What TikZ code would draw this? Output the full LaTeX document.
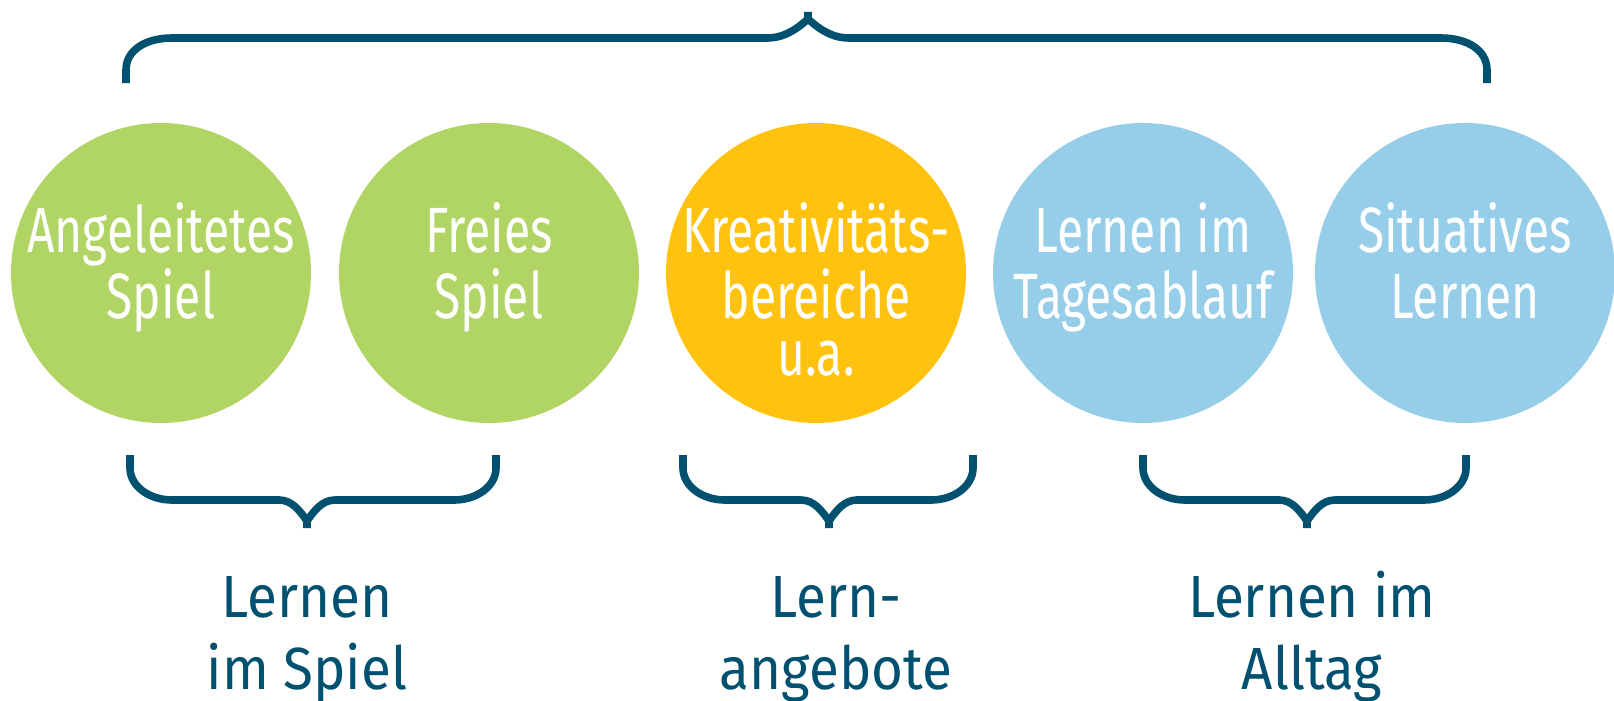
\documentclass[tikz,border=0pt]{standalone}
\usepackage{fontspec}
\setmainfont{Fira Sans}
\newfontfamily\circfont[FakeStretch=0.75]{Fira Sans}
\newfontfamily\labfont[FakeStretch=0.92]{Fira Sans}
\definecolor{bgreen}{HTML}{B1D564}
\definecolor{byellow}{HTML}{FFC20E}
\definecolor{bblue}{HTML}{96CEEA}
\definecolor{navy}{HTML}{005070}
\newcommand\lowbrace[3]{%
  \draw[brace] (#2,528) -- (#2,521) .. controls ({#2-7},511) and ({#2-15},500) .. ({#2-28},500)
     -- ({#1+42},500) .. controls ({#1+19},500) and (#1,486) .. (#1,468) -- (#1,455);
  \draw[brace] (#2,521) .. controls ({#2+7},511) and ({#2+15},500) .. ({#2+28},500)
     -- ({#3-42},500) .. controls ({#3-19},500) and (#3,486) .. (#3,468) -- (#3,455);}
\begin{document}
\begin{tikzpicture}[x=1pt,y=-1pt,
  bubble/.style={circle, minimum size=300pt, inner sep=0pt, draw=none},
  ctext/.style={text=white, font=\circfont\fontsize{64}{66}\selectfont, anchor=base, inner sep=0pt,
    text height=46pt, text depth=0pt},
  ltext/.style={text=navy, font=\labfont\fontsize{59.5}{72}\selectfont, anchor=base, inner sep=0pt,
    text height=44pt, text depth=0pt},
  brace/.style={draw=navy, line width=7.6pt, line join=round}]
\useasboundingbox (0,0) rectangle (1614,701);
% circles
\node[bubble, fill=bgreen] (c1) at (161,273) {};
\node[bubble, fill=bgreen] (c2) at (489,273) {};
\node[bubble, fill=byellow] (c3) at (816,273) {};
\node[bubble, fill=bblue] (c4) at (1143,273) {};
\node[bubble, fill=bblue] (c5) at (1465,273) {};
% circle texts
\node[ctext] (t1a) at (161,252) {Angeleitetes};
\node[ctext] (t1b) at (161,318) {Spiel};
\node[ctext] (t2a) at (489,252) {Freies};
\node[ctext] (t2b) at (489,318) {Spiel};
\node[ctext] (t3a) at (816,252) {Kreativitäts-};
\node[ctext] (t3b) at (816,318) {bereiche};
\node[ctext] (t3c) at (816,375) {u.a.};
\node[ctext] (t4a) at (1143,252) {Lernen im};
\node[ctext] (t4b) at (1143,318) {Tagesablauf};
\node[ctext] (t5a) at (1465,252) {Situatives};
\node[ctext] (t5b) at (1465,318) {Lernen};
% top brace
\draw[brace] (808,12) -- (808,19) .. controls (798,28) and (785,38) .. (767,38)
   -- (172,38) .. controls (146,38) and (126,50) .. (126,70) -- (126,83);
\draw[brace] (808,19) .. controls (818,28) and (831,38) .. (849,38)
   -- (1441,38) .. controls (1467,38) and (1487,50) .. (1487,70) -- (1487,83);
% bottom braces
\lowbrace{130}{307}{496}
\lowbrace{683}{829}{973}
\lowbrace{1143}{1307}{1466}
% labels
\node[ltext] (l1a) at (307,617) {Lernen};
\node[ltext] (l1b) at (307,689) {im Spiel};
\node[ltext] (l2a) at (836,617) {Lern-};
\node[ltext] (l2b) at (836,689) {angebote};
\node[ltext] (l3a) at (1312,617) {Lernen im};
\node[ltext] (l3b) at (1312,689) {Alltag};
\end{tikzpicture}
\end{document}
